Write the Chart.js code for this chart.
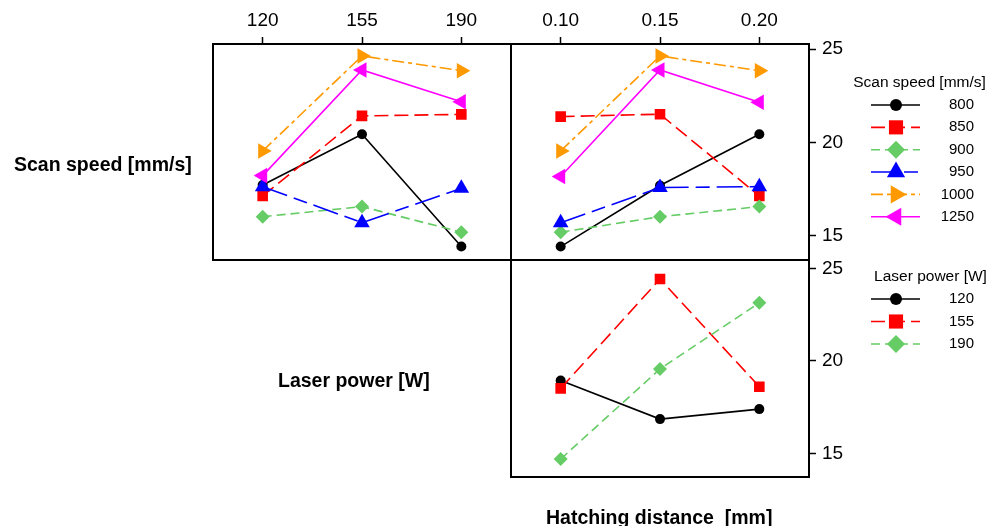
<!DOCTYPE html>
<html>
<head>
<title>Interaction plot</title>
<script src="https://cdn.jsdelivr.net/npm/chart.js@4/dist/chart.umd.min.js"></script>
<style>
body { margin: 0; background: #fff; }
#page { position: relative; width: 1002px; height: 526px; overflow: hidden;
        font-family: "Liberation Sans", Arial, Helvetica, sans-serif; }
#page canvas { position: absolute; left: 0; top: 0; }
.lab { position: absolute; font-weight: bold; font-size: 19.5px; line-height: 20px;
       white-space: pre; color: #000; }
</style>
</head>
<body>
<div id="page">
  <canvas id="tl" width="1002" height="526"></canvas>
  <canvas id="tr" width="1002" height="526"></canvas>
  <canvas id="br" width="1002" height="526"></canvas>
  <canvas id="legend" width="1002" height="526"></canvas>
  <div class="lab" style="left:14px;top:154px">Scan speed [mm/s]</div>
  <div class="lab" style="left:278px;top:370px">Laser power [W]</div>
  <div class="lab" style="left:546px;top:507px">Hatching distance  [mm]</div>
</div>

<script>
const speedLevels = ['800', '850', '900', '950', '1000', '1250'];
const powerLevels = ['120', '155', '190'];
const hatchLevels = ['0.10', '0.15', '0.20'];
const yTicks = [15, 20, 25];

// one row per scan speed, columns = laser power
const speedVsPower = [
  [17.73, 20.45, 14.43],
  [17.14, 21.43, 21.51],
  [16.03, 16.57, 15.20],
  [17.64, 15.71, 17.55],
  [19.55, 24.64, 23.85],
  [18.23, 23.89, 22.19]
];
// one row per scan speed, columns = hatching distance
const speedVsHatch = [
  [14.43, 17.70, 20.45],
  [21.39, 21.52, 17.14],
  [15.20, 16.03, 16.57],
  [15.71, 17.59, 17.64],
  [19.55, 24.64, 23.85],
  [18.18, 23.89, 22.16]
];
// one row per laser power, columns = hatching distance
const powerVsHatch = [
  [18.93, 16.85, 17.39],
  [18.51, 24.42, 18.60],
  [14.69, 19.56, 23.14]
];

const FONT = '"Liberation Sans", Arial, Helvetica, sans-serif';
// r = marker radius in the panels, lr = radius in the legend
const LINE = [
  { color: '#000000', dash: [],             point: 'circle',   r: 5,   lr: 6,    rot: 0 },
  { color: '#ff0000', dash: [14, 6],        point: 'rect',     r: 7.5, lr: 10,   rot: 0 },
  { color: '#66cc66', dash: [9, 5],         point: 'rectRot',  r: 7,   lr: 9,    rot: 0 },
  { color: '#0000ff', dash: [26, 7, 14, 7], point: 'triangle', r: 9,   lr: 10.5, rot: 0 },
  { color: '#ff9900', dash: [12, 4, 4, 4],  point: 'triangle', r: 9,   lr: 10.5, rot: 90 },
  { color: '#ff00ff', dash: [],             point: 'triangle', r: 9,   lr: 10.5, rot: -90 }
];

const frame = {
  id: 'frame',
  beforeDatasetsDraw(chart) {
    const { ctx, chartArea: a } = chart;
    ctx.save();
    ctx.lineWidth = 2;
    ctx.strokeStyle = '#000';
    ctx.strokeRect(a.left, a.top, a.right - a.left, a.bottom - a.top);
    ctx.restore();
  }
};

function makeSets(rows, names) {
  return rows.map((row, i) => ({
    label: names[i],
    data: row,
    borderColor: LINE[i].color,
    backgroundColor: LINE[i].color,
    borderWidth: 1.6,
    borderDash: LINE[i].dash,
    pointStyle: LINE[i].point,
    pointRadius: LINE[i].r,
    pointHoverRadius: LINE[i].r,
    pointRotation: LINE[i].rot,
    pointBorderWidth: 0,
    tension: 0,
    order: rows.length - i
  }));
}

function panel(id, labels, rows, names, opt) {
  const x = {
    type: 'category', position: 'top', offset: true, display: opt.showX,
    grid: { offset: false, drawOnChartArea: false, tickLength: 7, tickWidth: 1.5, tickColor: '#000' },
    border: { display: false },
    ticks: { color: '#000', font: { size: 19, family: FONT }, padding: 5, maxRotation: 0, autoSkip: false }
  };
  if (opt.showX) x.afterFit = s => { s.height = 44; };
  const y = {
    type: 'linear', position: 'right', display: opt.showY, min: opt.min, max: opt.max,
    afterBuildTicks: s => { s.ticks = yTicks.map(v => ({ value: v })); },
    grid: { drawOnChartArea: false, tickLength: 7, tickWidth: 1.5, tickColor: '#000' },
    border: { display: false },
    ticks: { color: '#000', font: { size: 19, family: FONT }, padding: 6 }
  };
  if (opt.showY) y.afterFit = s => { s.width = 193; };

  return new Chart(document.getElementById(id), {
    type: 'line',
    data: { labels: labels, datasets: makeSets(rows, names) },
    options: {
      responsive: false,
      animation: false,
      devicePixelRatio: 1,
      layout: { padding: opt.pad },
      plugins: { legend: { display: false }, tooltip: { enabled: false } },
      scales: { x: x, y: y }
    },
    plugins: [frame]
  });
}

panel('tl', powerLevels, speedVsPower, speedLevels,
  { showX: true, showY: false, min: 13.71, max: 25.28, pad: { left: 213, right: 491, top: 0, bottom: 266 } });
panel('tr', hatchLevels, speedVsHatch, speedLevels,
  { showX: true, showY: true, min: 13.71, max: 25.28, pad: { left: 511, right: 0, top: 0, bottom: 266 } });
panel('br', hatchLevels, powerVsHatch, powerLevels,
  { showX: false, showY: true, min: 13.72, max: 25.45, pad: { left: 511, right: 0, top: 260, bottom: 49 } });

function legendEntry(ctx, st, name, y) {
  ctx.save();
  ctx.strokeStyle = st.color;
  ctx.lineWidth = 1.6;
  ctx.setLineDash(st.dash);
  ctx.beginPath();
  ctx.moveTo(871, y);
  ctx.lineTo(920, y);
  ctx.stroke();
  ctx.restore();
  ctx.save();
  ctx.fillStyle = st.color;
  Chart.helpers.drawPoint(ctx, { pointStyle: st.point, radius: st.lr, rotation: st.rot, borderWidth: 0 }, 896, y);
  ctx.restore();
  ctx.fillStyle = '#000';
  ctx.textAlign = 'right';
  ctx.fillText(name, 974, y);
}

function drawLegend() {
  const ctx = document.getElementById('legend').getContext('2d');
  ctx.textBaseline = 'middle';
  ctx.fillStyle = '#000';
  ctx.font = '15.5px ' + FONT;
  ctx.textAlign = 'center';
  ctx.fillText('Scan speed [mm/s]', 919.5, 83);
  ctx.font = '15px ' + FONT;
  speedLevels.forEach((name, i) => legendEntry(ctx, LINE[i], name, 105 + i * 22.35));
  ctx.font = '15.5px ' + FONT;
  ctx.textAlign = 'center';
  ctx.fillText('Laser power [W]', 930.5, 277);
  ctx.font = '15px ' + FONT;
  powerLevels.forEach((name, i) => legendEntry(ctx, LINE[i], name, 299 + i * 22.5));
}
drawLegend();
</script>
</body>
</html>
